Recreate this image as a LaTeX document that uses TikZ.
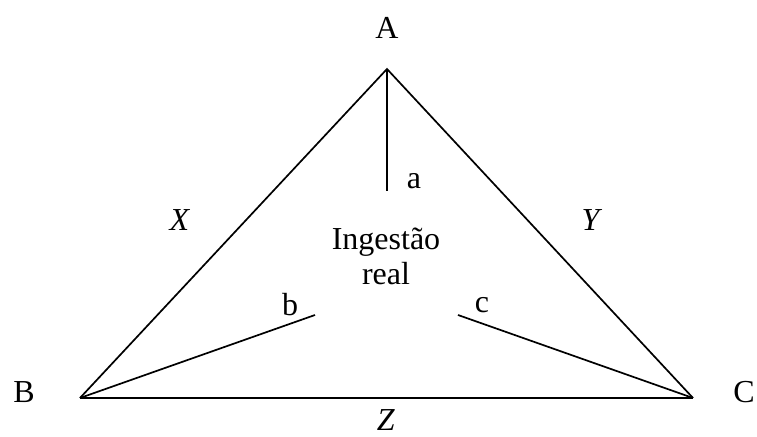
\documentclass[tikz,border=0pt]{standalone}
\usepackage{fontspec}
\setmainfont{Liberation Serif}
\tikzstyle{side} = [line width=0.85pt, line join=miter]
\tikzstyle{base} = [line width=1.1pt]
\tikzstyle{lbl} = [font=\fontsize{16}{17.5}\selectfont, inner sep=0pt]

\begin{document}
\begin{tikzpicture}[x=0.5pt, y=-0.5pt]
		
		% canvas
		\useasboundingbox (0,0) rectangle (757,437);
		
		% corners of the triangle
		\coordinate (A) at (387,69);
		\coordinate (B) at (80,398);
		\coordinate (C) at (693,398);
		
		% free ends of the inner strokes
		\coordinate (ea) at (387,191);
		\coordinate (eb) at (315,315);
		\coordinate (ec) at (458,315);
		
		% corner labels
		\node[lbl] (la) at (387,28) {A};
		\node[lbl] (lb) at (24,392) {B};
		\node[lbl] (lc) at (744,392) {C};
		
		% side labels
		\node[lbl] (lx) at (180,220) {\textit{X}};
		\node[lbl] (ly) at (592,220) {\textit{Y}};
		\node[lbl] (lz) at (386,420) {\textit{Z}};
		
		% stroke labels
		\node[lbl] (sa) at (414,181) {a};
		\node[lbl] (sb) at (290,305) {b};
		\node[lbl] (sc) at (482,305) {c};
		
		\node[lbl, align=center] (mid) at (386,256) {Ingestão\\real};
		
		% triangle
		\draw[side] (B) -- (A) -- (C);
		\draw[base] (B) -- (C);
		
		% inner strokes
		\draw[side] (A) -- (ea);
		\draw[side] (B) -- (eb);
		\draw[side] (C) -- (ec);
		
	\end{tikzpicture}
\end{document}
